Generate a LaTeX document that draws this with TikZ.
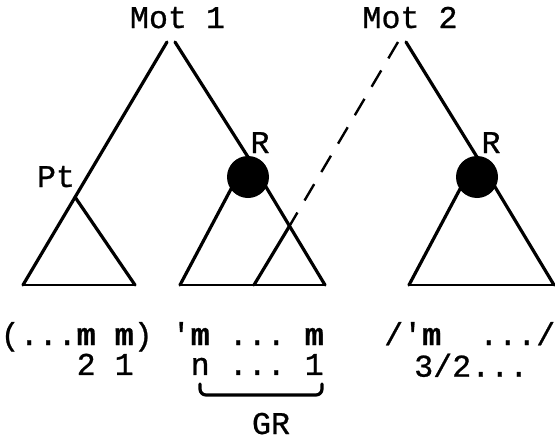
\documentclass[tikz,border=0pt]{standalone}
\usepackage{fontspec}
\newfontfamily\tw{Liberation Mono}[FakeBold=0.8]
\begin{document}
\begin{tikzpicture}[x=1pt,y=-1pt,
  edge/.style={line width=3.2pt, line cap=round, line join=round},
  baseedge/.style={line width=2.8pt, line cap=round, line join=round},
  dashedge/.style={line width=2.4pt, dash pattern=on 19pt off 14pt},
  lbl/.style={font=\tw\fontsize{31.67}{29}\selectfont, inner sep=0pt, anchor=base},
  rowtxt/.style={lbl, anchor=base west},
  blob/.style={circle, fill=black, minimum size=42pt, inner sep=0pt}]
\useasboundingbox (0,0) rectangle (555,442);
% tree points
\coordinate (m1L) at (167,42);
\coordinate (m1R) at (175,42);
\coordinate (b1L) at (23,285);
\coordinate (pt) at (75,197);
\coordinate (b1R) at (135,285);
\coordinate (r1) at (248,157);
\coordinate (b2L) at (180,285);
\coordinate (b2R) at (325,285);
\coordinate (ia) at (289.5,226);
\coordinate (ib) at (254,285);
\coordinate (m2L) at (398,42);
\coordinate (m2R) at (406,42);
\coordinate (r2) at (477,157);
\coordinate (b3L) at (409,285);
\coordinate (b3R) at (554,285);
% Mot 1 tree
\draw[edge] (m1L) -- (b1L);
\draw[baseedge] (b1L) -- (b1R);
\draw[edge] (b1R) -- (pt);
\draw[edge] (m1R) -- (r1);
\draw[edge] (b2L) -- (r1) -- (b2R);
\draw[baseedge] (b2L) -- (b2R);
\draw[edge] (ia) -- (ib);
\node[blob] (c1) at (248,177) {};
% dashed link
\draw[dashedge] (m2L) -- (ia);
% Mot 2 tree
\draw[edge] (m2R) -- (r2);
\draw[edge] (b3L) -- (r2) -- (b3R);
\draw[baseedge] (b3L) -- (b3R);
\node[blob] (c2) at (477,177) {};
% labels
\node[lbl] (mot1) at (177.5,28) {Mot~1};
\node[lbl] (mot2) at (410,28) {Mot~2};
\node[lbl] (ptl) at (56,187) {Pt};
\node[lbl] (rl1) at (260,153) {R};
\node[lbl] (rl2) at (491,153) {R};
% rows
\node[rowtxt] (rowsL) at (0.5,345) {\begin{tabular}[t]{@{}l@{}}
(...\textbf{m}~\textbf{m})~'\textbf{m}~...~\textbf{m}\\
\hspace*{76pt}2~1\hspace*{57pt}n~...~1
\end{tabular}};
\node[rowtxt] (rowsR) at (384,345) {\begin{tabular}[t]{@{}l@{}}
/'\textbf{m}~~.../\\
\hspace*{30pt}3/2...
\end{tabular}};
% brace
\coordinate (gl) at (200,384);
\coordinate (gr) at (322,384);
\draw[edge, rounded corners=6pt] (gl) -- ++(0,11) -| (gr);
\node[lbl] (grl) at (271,434) {GR};
\end{tikzpicture}
\end{document}
